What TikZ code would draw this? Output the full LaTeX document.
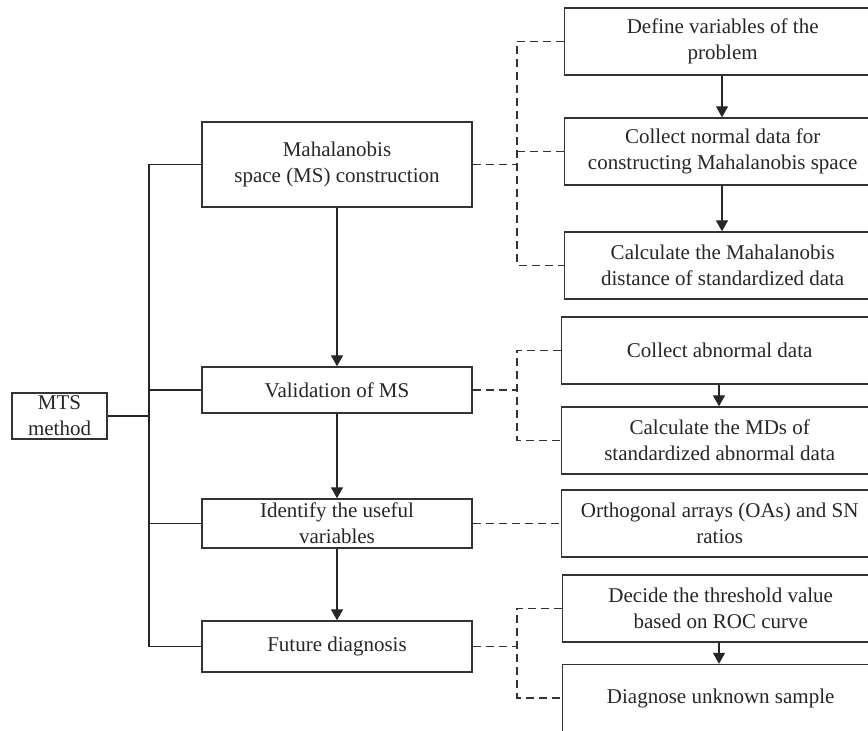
\documentclass[tikz,border=0pt]{standalone}
\usepackage{fontspec}
\setmainfont{Liberation Serif}
\usepackage{tikz}
\usetikzlibrary{arrows.meta}

\begin{document}
\begin{tikzpicture}[x=0.5pt,y=-0.5pt,
  box/.style={draw=black!80,line width=0.7pt,align=center,inner sep=0pt,
    font=\fontsize{10.5}{13}\selectfont,text=black!85},
  leftbox/.style={box,minimum width=135pt},
  rightbox/.style={box,minimum width=158pt,minimum height=33.5pt,anchor=west},
  dashline/.style={draw=black!80,line width=0.7pt,dash pattern=on 4pt off 2.5pt},
  arr/.style={draw=black!85,line width=0.7pt,-{Triangle[length=5.5pt,width=6pt]}}]
\useasboundingbox (0,0) rectangle (868,731);
\clip (0,0) rectangle (868,731);

% left column
\node[box,minimum width=47.5pt,minimum height=23pt] (mts) at (59.5,416) {MTS\\method};
\node[leftbox,minimum height=42.5pt] (ms) at (337,164.5) {Mahalanobis\\space (MS) construction};
\node[leftbox,minimum height=23pt] (val) at (337,390) {Validation of MS};
\node[leftbox,minimum height=24.5pt] (idv) at (337,523.5) {Identify the useful\\variables};
\node[leftbox,minimum height=25.5pt] (fut) at (337,646.5) {Future diagnosis};

% right column
\node[rightbox] (def) at (564,41.5) {Define variables of the\\problem};
\node[rightbox] (cnd) at (564,151.5) {Collect normal data for\\constructing Mahalanobis space};
\node[rightbox] (cmd) at (564,265.5) {Calculate the Mahalanobis\\distance of standardized data};
\node[rightbox] (cad) at (561,350.5) {Collect abnormal data};
\node[rightbox] (mds) at (561,440.5) {Calculate the MDs of\\standardized abnormal data};
\node[rightbox] (oa) at (561,523.5) {Orthogonal arrays (OAs) and SN\\ratios};
\node[rightbox] (thr) at (562,608.5) {Decide the threshold value\\based on ROC curve};
\node[rightbox] (dia) at (562,698) {Diagnose unknown sample};

\coordinate (tk) at (149,0);
\coordinate (dk) at (517,0);

% solid tree
\draw[black!85,line width=0.7pt] (ms.west) -- (ms.west -| tk) -- (fut.west -| tk) -- (fut.west);
\draw[black!85,line width=0.7pt] (val.west) -- (val.west -| tk);
\draw[black!85,line width=0.7pt] (idv.west) -- (idv.west -| tk);
\draw[black!85,line width=0.7pt] (mts.east) -- (mts.east -| tk);

% main flow
\draw[arr] (ms) -- (val);
\draw[arr] (val) -- (idv);
\draw[arr] (idv) -- (fut);
\draw[arr] (def.south -| 722,0) -- (cnd.north -| 722,0);
\draw[arr] (cnd.south -| 722,0) -- (cmd.north -| 722,0);
\draw[arr] (cad.south -| 719,0) -- (mds.north -| 719,0);
\draw[arr] (thr.south -| 719,0) -- (dia.north -| 719,0);

% dashed links
\draw[dashline] (ms.east) -- (ms.east -| dk);
\draw[dashline] (def.west) -- (def.west -| dk) -- (cmd.west -| dk) -- (cmd.west);
\draw[dashline] (cnd.west -| dk) -- (cnd.west);
\draw[dashline] (val.east) -- (val.east -| dk);
\draw[dashline] (cad.west) -- (cad.west -| dk) -- (mds.west -| dk) -- (mds.west);
\draw[dashline] (idv.east) -- (oa.west);
\draw[dashline] (fut.east) -- (fut.east -| dk);
\draw[dashline] (thr.west) -- (thr.west -| dk) -- (dia.west -| dk) -- (dia.west);
\end{tikzpicture}
\end{document}
